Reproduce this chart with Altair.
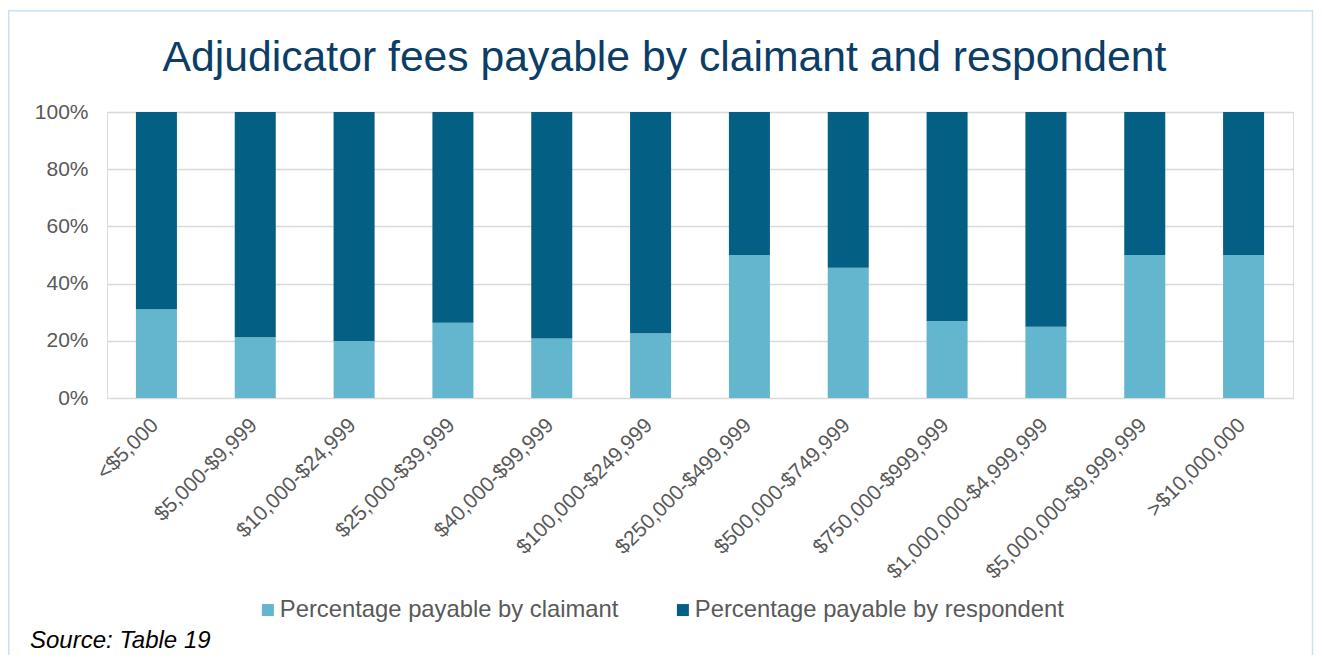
import altair as alt
import pandas as pd

# ---- data ----
categories = [
    "<$5,000", "$5,000-$9,999", "$10,000-$24,999", "$25,000-$39,999",
    "$40,000-$99,999", "$100,000-$249,999", "$250,000-$499,999",
    "$500,000-$749,999", "$750,000-$999,999", "$1,000,000-$4,999,999",
    "$5,000,000-$9,999,999", ">$10,000,000",
]
claimant = [31.0, 21.2, 19.9, 26.3, 20.8, 22.6, 50.0, 45.5, 26.9, 24.9, 50.0, 50.0]
respondent = [69.0, 78.8, 80.1, 73.7, 79.2, 77.4, 50.0, 54.5, 73.1, 75.1, 50.0, 50.0]
series_names = ["Percentage payable by claimant", "Percentage payable by respondent"]
series_colors = ["#64B5CE", "#035F83"]
y_ticks = [0, 20, 40, 60, 80, 100]
title_text = "Adjudicator fees payable by claimant and respondent"
source_text = "Source: Table 19"

FONT = "Liberation Sans"

rows = []
for i, c in enumerate(categories):
    rows.append({"cat": c, "series": series_names[0], "value": claimant[i], "ord": 0})
    rows.append({"cat": c, "series": series_names[1], "value": respondent[i], "ord": 1})
df = pd.DataFrame(rows)

bars = alt.Chart(df).mark_bar().encode(
    x=alt.X(
        "cat:N", sort=categories, title=None,
        scale=alt.Scale(paddingInner=0.585, paddingOuter=0.2925),
        axis=alt.Axis(
            labelAngle=-45, labelFontSize=21, labelFont=FONT, labelColor="#595959",
            labelPadding=16, labelOffset=-9, ticks=False, domain=False, grid=False,
            labelOverlap=False, labelLimit=400,
        ),
    ),
    y=alt.Y(
        "value:Q", stack="zero", title=None,
        scale=alt.Scale(domain=[0, 100], nice=False),
        axis=alt.Axis(
            values=y_ticks, labelExpr="datum.value + '%'", labelFontSize=21,
            labelFont=FONT, labelColor="#595959", labelPadding=19, ticks=False,
            domain=False, grid=True, gridColor="#D9D9D9", gridWidth=1.5,
        ),
    ),
    color=alt.Color(
        "series:N",
        scale=alt.Scale(domain=series_names, range=series_colors),
        legend=alt.Legend(
            orient="none", legendX=149, legendY=486, direction="horizontal",
            title=None, symbolType="square", symbolSize=144, symbolStrokeWidth=0,
            labelFontSize=23.8, labelFont=FONT, labelColor="#595959",
            labelOffset=0, columnPadding=52, padding=0, labelLimit=600,
        ),
    ),
    order=alt.Order("ord:Q"),
)

border = alt.Chart(pd.DataFrame({"a": [0]})).mark_rect(
    fill="transparent", stroke="#C6E2F6", strokeWidth=1.5
).encode(
    x=alt.value(-98.25), x2=alt.value(1205.5),
    y=alt.value(-101.25), y2=alt.value(560),
)

title = alt.Chart(pd.DataFrame({"t": [title_text]})).mark_text(
    align="center", baseline="alphabetic", fontSize=42.7, font=FONT, color="#0B3D66"
).encode(text="t:N", x=alt.value(557.5), y=alt.value(-41.5))

source = alt.Chart(pd.DataFrame({"t": [source_text]})).mark_text(
    align="left", baseline="alphabetic", fontSize=24, font=FONT,
    fontStyle="italic", color="#000000"
).encode(text="t:N", x=alt.value(-77), y=alt.value(536))

chart = alt.layer(border, bars, title, source).properties(
    width=1186, height=286,
    autosize=alt.AutoSizeParams(type="none"),
    padding={"left": 99, "top": 104, "right": 21, "bottom": 257},
).configure_view(stroke=None).configure(background="white")

chart.save("out.html", embed_options={"renderer": "svg", "actions": False})
